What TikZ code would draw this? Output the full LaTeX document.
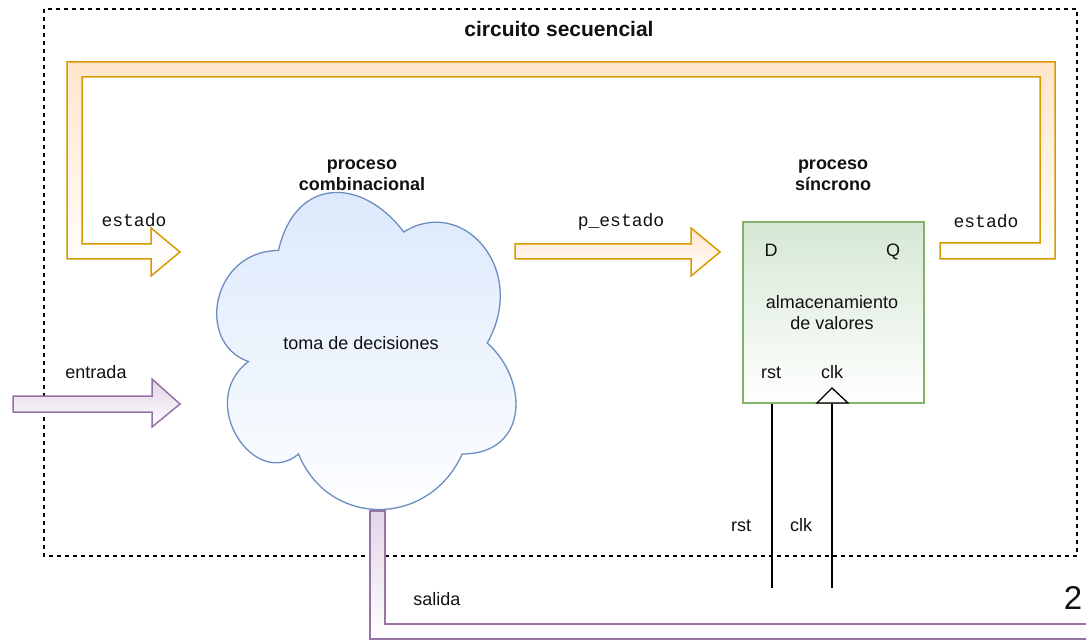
\documentclass[tikz,border=0pt]{standalone}
\usepackage{fontspec}
\setmainfont{Liberation Sans}
\newfontfamily\codefont{Liberation Mono}

\definecolor{orFill}{HTML}{FFE6CC}
\definecolor{orLine}{HTML}{D79B00}
\definecolor{puFill}{HTML}{E1D5E7}
\definecolor{puLine}{HTML}{9673A6}
\definecolor{blFill}{HTML}{DAE8FC}
\definecolor{blLine}{HTML}{6C8EBF}
\definecolor{grFill}{HTML}{D5E8D4}
\definecolor{grLine}{HTML}{82B366}
\definecolor{txt}{HTML}{111111}

\tikzset{
  frame/.style={draw=black, line width=1.3pt, dash pattern=on 4pt off 4pt},
  busOr/.style={draw=orLine, line width=1.5pt, top color=orFill, bottom color=white, line join=miter},
  busPu/.style={draw=puLine, line width=1.5pt, top color=puFill, bottom color=white, line join=miter},
  cloudshape/.style={draw=blLine, line width=1.3pt, top color=blFill, bottom color=white},
  store/.style={draw=grLine, line width=1.5pt, top color=grFill, bottom color=white, inner sep=0pt},
  wire/.style={draw=black, line width=1.3pt},
  lbl/.style={text=txt, inner sep=0pt, font=\fontsize{18}{21}\selectfont},
  one/.style={lbl, text height=0.72em, text depth=0pt},
  code/.style={one, font=\codefont\fontsize{18}{21}\selectfont},
  head/.style={lbl, align=center, font=\bfseries\fontsize{18}{20.5}\selectfont},
}

\begin{document}
\begin{tikzpicture}[x=1pt, y=-1pt]
\clip (0,0) rectangle (1086,644);

% dashed boundary of the sequential circuit
\draw[frame] (44,9) rectangle (1077,556);
\node[lbl, font=\bfseries\fontsize{21}{25}\selectfont, text height=0.72em, text depth=0pt] (title) at (559,33) {circuito secuencial};

% state feedback loop: output Q back to the combinational input
\draw[busOr] (940,243) -- (1040,243) -- (1040,77) -- (82,77) -- (82,244)
  -- (151,244) -- (151,228) -- (180,252) -- (151,276) -- (151,259)
  -- (67,259) -- (67,62) -- (1055,62) -- (1055,259) -- (940,259) -- cycle;

% next-state bus
\draw[busOr] (515,244) -- (691,244) -- (691,228) -- (720,252) -- (691,276)
  -- (691,259) -- (515,259) -- cycle;

% input bus
\draw[busPu] (13,396) -- (152,396) -- (152,379) -- (180,404) -- (152,427)
  -- (152,412) -- (13,412) -- cycle;

% output bus
\draw[busPu] (370,511) -- (385,511) -- (385,624) -- (1100,624) -- (1100,639)
  -- (370,639) -- cycle;

% combinational process (cloud)
\begin{scope}[shift={(195,158)}, x=334pt, y=-370pt]
\draw[cloudshape] (0.25,0.25)
  .. controls (0.05,0.25) and (0,0.5) .. (0.16,0.55)
  .. controls (0,0.66) and (0.18,0.9) .. (0.31,0.8)
  .. controls (0.4,1) and (0.7,1) .. (0.8,0.8)
  .. controls (1,0.8) and (1,0.6) .. (0.875,0.5)
  .. controls (1,0.3) and (0.8,0.1) .. (0.625,0.2)
  .. controls (0.5,0.05) and (0.3,0.05) .. (0.25,0.25) -- cycle;
\end{scope}
\node[one] (toma) at (361,346) {toma de decisiones};
\node[head] (combT) at (362,175) {proceso\\combinacional};

% synchronous process (register)
\node[store, minimum width=181pt, minimum height=181pt] (mem) at (833.5,312.5) {};
\node[head] (syncT) at (833,175) {proceso\\síncrono};
\node[one] (pinD) at (771,253) {D};
\node[one] (pinQ) at (893,253) {Q};
\node[lbl, align=center] (memT) at (832,313) {almacenamiento\\de valores};
\node[one] (pinR) at (771,375) {rst};
\node[one] (pinC) at (832,375) {clk};

% reset and clock lines
\coordinate (rstEnd) at (772,588);
\coordinate (clkEnd) at (832,588);
\draw[wire] (rstEnd |- mem.south) -- (rstEnd);
\draw[wire] (clkEnd |- mem.south) -- (clkEnd);
\draw[wire, fill=white] (817,403) -- (832,388) -- (848,403) -- cycle;

% signal labels
\node[code] (estIn) at (134,223) {estado};
\node[code] (pest) at (621,223) {p\_estado};
\node[code] (estOut) at (986,224) {estado};
\node[one] (entr) at (96,375) {entrada};
\node[one] (sal) at (437,602) {salida};
\node[one] (rstL) at (741,528) {rst};
\node[one] (clkL) at (801,528) {clk};
\node[lbl, font=\fontsize{33}{38}\selectfont, text height=0.72em, text depth=0pt] (pg) at (1073,606) {2};
\end{tikzpicture}
\end{document}
